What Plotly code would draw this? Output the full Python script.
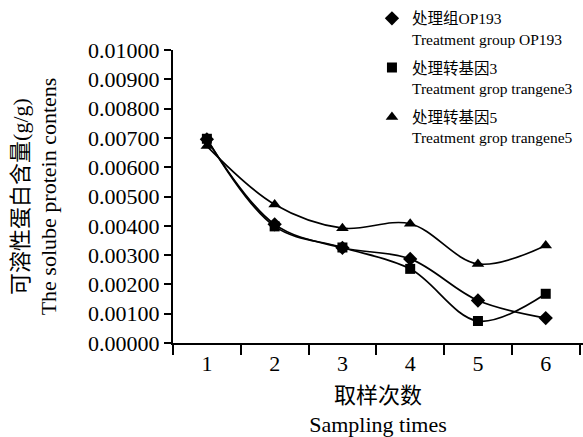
import plotly.graph_objects as go

categories = ["1", "2", "3", "4", "5", "6"]
op193 = [0.00695, 0.00405, 0.00325, 0.00287, 0.00145, 0.00085]
trangene3 = [0.00697, 0.00398, 0.00326, 0.00253, 0.00075, 0.00168]
trangene5 = [0.00672, 0.00473, 0.00392, 0.00407, 0.00270, 0.00333]

names = ["处理组OP193<br>Treatment group OP193",
         "处理转基因3<br>Treatment grop trangene3",
         "处理转基因5<br>Treatment grop trangene5"]
symbols = ["diamond", "square", "triangle-up"]
sizes = [11, 10, 11]
series = [op193, trangene3, trangene5]

FONT = "Liberation Serif, Noto Sans CJK SC"

fig = go.Figure()
for vals in series:
    fig.add_trace(go.Scatter(x=categories, y=vals, mode="lines",
                             line=dict(color="black", width=1.7, shape="spline", smoothing=1.0),
                             showlegend=False, hoverinfo="skip"))
for i, (vals, nm, sym, sz) in enumerate(zip(series, names, symbols, sizes)):
    fig.add_trace(go.Scatter(x=categories, y=vals, mode="markers", name=nm,
                             legendgroup="g%d" % i,
                             marker=dict(symbol=sym, size=sz, color="black")))

fig.update_layout(
    width=583, height=437,
    margin=dict(l=173, r=0, t=50, b=94, autoexpand=False),
    paper_bgcolor="white", plot_bgcolor="white",
    font=dict(family=FONT, color="black", size=22),
    legend=dict(xref="container", yref="container", x=0.638, y=0.996,
                xanchor="left", yanchor="top", valign="top",
                font=dict(size=15.5, family=FONT), bgcolor="rgba(0,0,0,0)",
                tracegroupgap=6, traceorder="grouped"),
    xaxis=dict(type="category", range=[-0.5, 5.55], showline=True, linecolor="black",
               linewidth=2, ticks="outside", tickson="boundaries", ticklen=10,
               tickwidth=2, tickcolor="black", showgrid=False, zeroline=False,
               tickfont=dict(size=22, family=FONT),
               title=dict(text="取样次数<br>Sampling times",
                          font=dict(size=22, family=FONT), standoff=16)),
    yaxis=dict(range=[0, 0.01], tickvals=[i * 0.001 for i in range(11)],
               tickformat=".5f", showline=True, linecolor="black", linewidth=2,
               ticks="outside", ticklen=7, tickwidth=2, tickcolor="black",
               showgrid=False, zeroline=False, tickfont=dict(size=22, family=FONT),
               title=dict(text="可溶性蛋白含量(g/g)<br>The solube protein contens",
                          font=dict(size=22, family=FONT), standoff=25)),
)
fig.write_html("out.html", config={"displayModeBar": False},
               post_script="document.body.style.margin='0';document.body.style.overflow='hidden';")
